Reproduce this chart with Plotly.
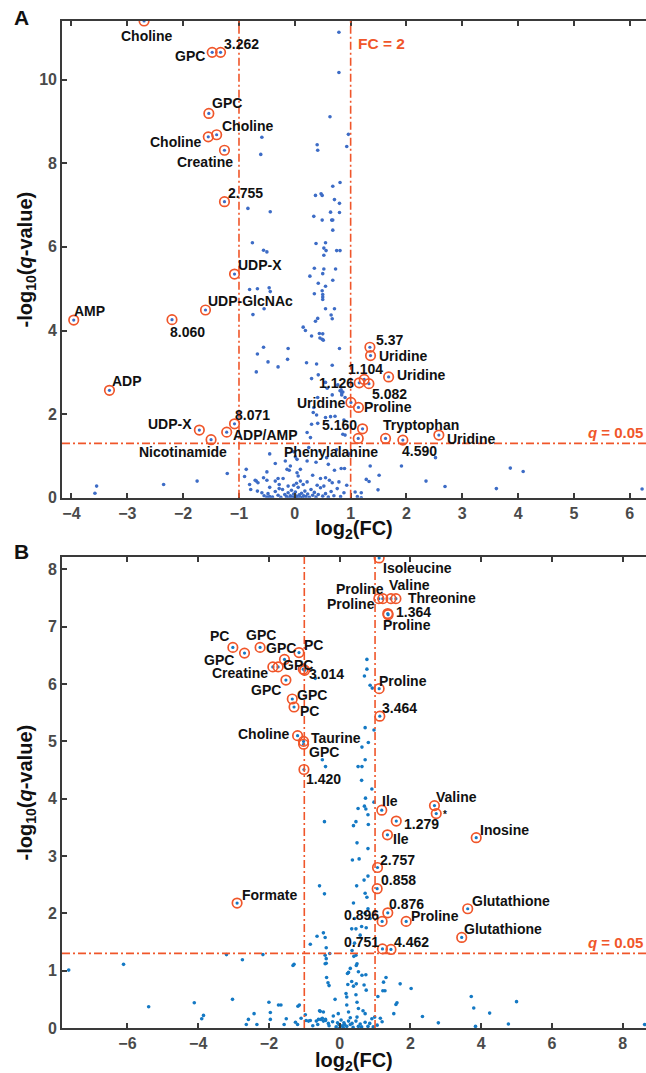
import plotly.graph_objects as go

# ---------------- Panel A data ----------------
a_bg_x = [0.79,0.79,0.63,0.96,0.93,-0.59,-0.61,0.40,0.41,0.81,0.68,0.37,0.47,0.49,0.71,0.80,-0.84,-0.44,0.64,0.80,
          0.34,0.49,0.66,0.68,0.68,-0.76,-0.56,-0.50,0.38,0.55,0.52,0.56,0.75,0.81,0.52,0.35,0.52,0.73,0.50,0.27,
          0.68,0.42,0.55,-0.81,-0.67,-0.46,-0.44,0.35,0.49,0.50,0.50,0.50,
          -0.55,0.55,0.71,-0.75,0.41,0.37,0.65,0.67,0.15,0.19,0.44,0.50,0.30,0.45,0.49,0.51,0.80,-0.56,-0.12,-0.67,
          -0.48,-0.30,0.21,0.39,0.67,0.42,0.30,0.77,0.83,0.84,0.41,0.67,0.84,0.33,0.39,0.55,0.64,0.41,0.22,0.88,
          -0.69,-0.13,0.34,0.30,0.28,0.86,0.90,0.81,0.86,0.90,0.72,0.55,0.58,
          -3.55,-3.58,-2.35,-1.75,-1.21,-0.90,-0.81,-0.69,-0.67,-0.50,-0.45,-0.35,-0.28,-0.21,0.01,0.04,-0.17,-0.08,
          0.04,0.45,0.57,-0.87,-0.14,-0.10,0.10,0.22,0.71,0.83,0.89,-0.71,-0.66,-0.56,-0.50,-0.30,0.06,0.10,0.32,0.46,
          0.55,0.62,0.67,0.79,-0.79,-0.59,1.28,1.33,1.08,1.19,1.91,2.35,2.69,3.61,3.86,4.09,6.22,2.52,1.51,1.49,1.12,
          1.19,1.35,0.97,0.75,0.25,-0.02,0.38,0.60,-0.45,-0.35,-0.50,
          -0.55,-0.48,-0.40,-0.35,-0.30,-0.25,-0.22,-0.18,-0.15,-0.12,-0.10,-0.08,-0.06,-0.04,-0.02,0.00,0.01,0.03,
          0.05,0.06,0.08,0.10,0.12,0.14,0.16,0.18,0.20,0.23,0.26,0.29,0.32,0.35,0.38,0.42,0.46,0.50,0.55,0.60,0.65,
          0.70,0.76,0.82,0.88,0.93,-0.02,0.03,-0.12,0.15,0.22,-0.28,0.40,0.52,-0.45]
a_bg_y = [11.13,10.17,9.11,8.69,8.40,8.62,8.21,8.44,8.31,7.54,7.45,7.23,7.27,7.23,7.13,7.04,6.92,6.84,6.83,6.82,
          6.73,6.64,6.64,6.64,6.40,6.10,5.92,5.88,6.08,6.10,5.97,5.91,5.91,5.91,5.80,5.49,5.47,5.47,5.36,5.30,
          5.20,5.13,5.06,4.98,5.00,5.02,4.93,4.88,4.95,4.86,4.80,4.74,
          4.52,4.52,4.52,4.38,4.29,4.22,4.37,4.28,4.08,4.00,3.93,3.92,3.87,3.82,3.79,3.77,3.57,3.60,3.57,3.44,
          3.25,3.13,3.23,3.20,3.17,2.94,2.85,2.70,2.58,2.51,2.40,2.46,2.46,2.04,1.98,1.92,1.94,1.78,1.56,1.86,
          3.01,3.31,2.16,1.76,1.44,1.52,1.50,2.56,2.53,2.40,1.95,2.76,2.62,
          0.28,0.11,0.32,0.40,0.58,0.51,0.32,0.40,0.16,0.02,0.03,0.40,0.32,0.46,0.98,0.92,0.88,0.76,
          0.60,1.12,0.96,0.68,0.68,0.66,0.68,0.88,0.66,0.70,0.70,0.42,0.36,0.48,0.42,0.46,0.52,0.40,0.54,0.46,
          0.48,0.42,0.36,0.38,0.20,0.12,0.44,0.39,0.14,0.12,0.76,0.40,0.27,0.22,0.71,0.63,0.21,0.96,0.54,0.19,0.03,
          0.00,0.76,1.05,1.15,1.20,1.10,0.85,0.80,1.05,0.82,0.62,
          0.05,0.10,0.02,0.15,0.06,0.01,0.20,0.08,0.03,0.12,0.00,0.05,0.18,0.02,0.09,0.01,0.14,0.04,
          0.00,0.25,0.07,0.02,0.11,0.00,0.05,0.16,0.03,0.09,0.01,0.20,0.06,0.13,0.02,0.08,0.24,0.04,0.10,0.02,0.15,
          0.05,0.22,0.03,0.12,0.30,0.30,0.35,0.28,0.32,0.38,0.22,0.30,0.28,0.25]

a_hl_x = [-2.70,-1.48,-1.33,-1.54,-1.55,-1.40,-1.26,-1.26,-1.08,-1.60,-2.20,-3.96,-3.32,-1.71,-1.50,-1.22,-1.08,
          1.345,1.356,1.68,1.243,1.154,1.327,1.005,1.14,1.213,1.136,1.625,1.935,2.58]
a_hl_y = [11.40,10.65,10.65,9.19,8.63,8.68,8.31,7.08,5.35,4.49,4.26,4.25,2.57,1.62,1.39,1.57,1.77,
          3.60,3.40,2.89,2.83,2.75,2.73,2.28,2.16,1.65,1.42,1.42,1.38,1.50]
a_hl_labels = ["Choline","GPC","3.262","GPC","Choline","Choline","Creatine","2.755","UDP-X","UDP-GlcNAc","8.060",
               "AMP","ADP","UDP-X","Nicotinamide","ADP/AMP","8.071","5.37","Uridine","Uridine","1.104","1.126",
               "5.082","Uridine","Proline","5.160","Phenylalanine","Tryptophan","4.590","Uridine"]

# ---------------- Panel B data ----------------
b_bg_x = [0.77,0.77,0.70,0.86,0.92,-0.69,0.72,0.97,0.81,0.63,-0.49,0.72,-0.40,0.52,0.63,0.62,0.91,0.73,0.97,0.52,
          0.70,0.74,0.80,-0.43,0.46,0.39,0.81,0.49,0.80,0.36,0.55,-0.57,-0.43,0.69,0.80,0.48,0.72,0.77,0.39,0.80,
          0.72,0.42,0.86,0.34,0.46,0.58,-0.64,-0.46,-0.41,-0.83,0.62,0.75,
          -0.41,-0.38,-0.38,-0.41,-0.37,-0.33,-0.30,-1.29,-7.66,-6.11,-5.40,-4.11,-3.85,-3.90,-3.20,-2.75,-3.03,-2.17,
          -1.32,-2.64,-2.58,-2.42,-2.34,-2.00,-1.96,-1.96,-1.73,-1.66,-1.57,-1.51,-1.25,-1.19,-1.18,-1.09,-0.97,-0.95,
          -0.83,-0.76,-0.66,-0.60,-0.57,-0.53,-0.49,-0.46,-0.40,-0.32,0.46,0.49,0.47,0.30,0.25,0.22,0.53,0.63,0.74,
          0.34,0.39,0.47,0.23,0.18,0.20,0.69,0.75,1.24,1.71,1.28,1.08,0.46,0.49,-0.13,-1.14,1.62,0.20,0.25,0.53,0.66,
          0.72,-0.55,-0.46,-0.04,-0.18,0.30,0.49,0.91,0.99,1.15,2.02,1.22,1.31,1.59,1.53,3.72,3.79,4.24,5.00,4.77,
          3.84,2.79,8.62,2.34,
          -0.88,-0.62,-0.40,-0.20,-0.06,0.04,0.14,0.30,0.46,0.53,0.58,0.72,0.85,0.95,1.06,1.20,-0.10,0.00,0.07,0.10,
          0.20,-0.30,0.38,0.62,0.80,-0.02,0.12,0.25,0.35,0.35,0.40,0.42,-0.38,-0.28]
b_bg_y = [6.43,6.26,6.14,5.98,5.93,6.10,5.24,5.20,4.98,4.90,4.68,4.68,4.56,4.56,4.56,4.32,4.17,4.01,3.94,3.83,
          3.87,3.82,3.72,3.60,3.60,3.53,3.55,3.23,3.13,2.93,2.95,2.48,2.34,2.58,2.65,2.48,2.35,2.28,2.18,2.08,
          2.00,1.91,1.91,1.73,1.73,1.62,1.60,1.66,1.58,1.46,1.77,1.75,
          1.27,1.21,1.13,1.12,0.88,0.79,0.74,1.11,1.01,1.11,0.37,0.44,0.22,0.16,1.28,1.19,0.50,1.28,
          1.09,0.06,0.15,0.25,0.06,0.45,0.27,0.15,0.40,0.40,0.06,0.16,0.10,0.06,0.38,0.17,0.23,0.13,
          0.13,0.04,0.12,0.15,0.30,0.15,0.17,0.12,0.15,0.08,1.27,1.12,1.09,1.04,0.97,0.95,0.98,0.92,0.93,
          0.81,0.73,0.77,0.76,0.60,0.54,0.75,0.66,0.80,0.77,0.65,0.55,0.58,0.45,0.50,0.40,0.44,0.40,0.28,0.34,0.30,
          0.25,0.29,0.28,0.25,0.21,0.18,0.19,0.16,0.19,0.17,0.69,0.65,0.88,0.41,0.25,0.55,0.35,0.26,0.46,0.07,
          0.03,0.09,0.06,0.20,
          0.12,0.06,0.13,0.11,0.09,0.14,0.06,0.06,0.12,0.03,0.07,0.10,0.08,0.02,0.05,0.11,0.02,0.00,0.04,0.01,
          0.03,0.04,0.01,0.02,0.03,0.06,0.09,0.12,0.08,1.35,1.25,1.48,1.40,1.30]

b_hl_x = [-3.02,-2.69,-2.25,-1.56,-1.15,-1.89,-1.74,-1.03,-0.99,-1.52,-1.34,-1.29,-1.19,-1.02,-1.02,-1.01,
          1.116,1.107,1.22,1.45,1.59,1.36,1.37,1.116,1.135,1.19,2.68,2.73,1.60,1.35,3.86,1.07,1.06,1.36,1.20,
          1.88,3.62,3.45,1.21,1.45,-2.90]
b_hl_y = [6.64,6.54,6.64,6.43,6.55,6.30,6.30,6.26,6.24,6.07,5.74,5.60,5.10,5.00,4.95,4.51,
          8.20,7.49,7.49,7.49,7.49,7.23,7.21,5.92,5.44,3.80,3.88,3.74,3.61,3.37,3.32,2.80,2.43,2.01,1.86,
          1.86,2.08,1.58,1.38,1.37,2.18]
b_hl_labels = ["PC","GPC","GPC","GPC","PC","Creatine","","GPC","3.014","GPC","GPC","PC","Choline","Taurine","GPC",
               "1.420","Isoleucine","Proline","Proline","Valine","Threonine","1.364","Proline","Proline","3.464",
               "Ile","Valine","*","1.279","Ile","Inosine","2.757","0.858","0.876","0.896","Proline","Glutathione",
               "Glutathione","0.751","4.462","Formate"]

q_thresh = 1.30103  # -log10(0.05)
fc_thresh = 1.0     # log2(2)

# label offsets in pixels (dx right, dy up) for each highlighted point
a_off = [(3,-15),(-22,-4),(21,8),(18,10),(-32,-5),(31,9),(-19,-12),(21,9),(25,9),(45,9),(16,-12),(16,9),(18,9),
         (-29,6),(-28,-12),(39,-3),(18,9),(20,7),(32,0),(32,2),(1,10),(-23,0),(21,-10),(-30,-1),(30,0),(-23,4),
         (-27,-14),(35,13),(17,-11),(32,-4)]
b_off = [(-13,11),(-26,-7),(1,12),(-3,11),(14,8),(-33,-6),(0,0),(-5,4),(22,-4),(-20,-10),(20,4),(15,-4),(-34,2),
         (32,3),(20,-8),(20,-10),(38,-10),(-19,10),(-32,-5),(19,14),(46,1),(26,2),(19,-10),(24,8),(20,8),(8,9),
         (22,9),(9,-1),(25,-3),(14,-4),(28,8),(20,8),(21,9),(19,9),(-21,6),(29,5),(43,8),(41,8),(-21,7),(21,7),
         (32,8)]

ORANGE = "#F0562A"
BLUE_A = "#3D6CC6"
BLUE_B = "#1479C4"
AX = "#3a3a3a"
FONT = "Liberation Sans, Arial, sans-serif"
DASH = "8px,3px,2px,3px"

fig = go.Figure()

def add_panel(xa, ya, bgx, bgy, hx, hy, blue):
    fig.add_trace(go.Scatter(x=bgx, y=bgy, mode="markers", xaxis=xa, yaxis=ya,
                             marker=dict(size=3.6, color=blue), hoverinfo="skip", showlegend=False))
    fig.add_trace(go.Scatter(x=hx, y=hy, mode="markers", xaxis=xa, yaxis=ya,
                             marker=dict(size=3.2, color=blue), hoverinfo="skip", showlegend=False))
    fig.add_trace(go.Scatter(x=hx, y=hy, mode="markers", xaxis=xa, yaxis=ya,
                             marker=dict(symbol="circle-open", size=9.5, color=ORANGE, line=dict(width=1.7, color=ORANGE)),
                             hoverinfo="skip", showlegend=False))

add_panel("x", "y", a_bg_x, a_bg_y, a_hl_x, a_hl_y, BLUE_A)
add_panel("x2", "y2", b_bg_x, b_bg_y, b_hl_x, b_hl_y, BLUE_B)

annotations = []
def add_labels(xref, yref, hx, hy, labels, offs):
    for x, y, t, (dx, dy) in zip(hx, hy, labels, offs):
        if not t:
            continue
        annotations.append(dict(x=x, y=y, xref=xref, yref=yref, text="<b>%s</b>" % t, showarrow=False,
                                xanchor="center", yanchor="middle",
                                xshift=dx, yshift=dy, font=dict(family=FONT, size=14 if t != "*" else 10, color="#111111")))

add_labels("x", "y", a_hl_x, a_hl_y, a_hl_labels, a_off)
add_labels("x2", "y2", b_hl_x, b_hl_y, b_hl_labels, b_off)

shapes = []
for xr, yr in (("x", "y"), ("x2", "y2")):
    for xv in (-fc_thresh, fc_thresh):
        shapes.append(dict(type="line", xref=xr, yref=yr + " domain", x0=xv, x1=xv, y0=0, y1=1,
                           line=dict(color=ORANGE, width=1.6, dash=DASH), layer="above"))
    shapes.append(dict(type="line", xref=xr + " domain", yref=yr, x0=0, x1=1, y0=q_thresh, y1=q_thresh,
                       line=dict(color=ORANGE, width=1.6, dash=DASH), layer="above"))

title_font = dict(family=FONT, size=20, color="#111111")
annotations += [
    dict(x=fc_thresh, y=10.87, xref="x", yref="y", xanchor="left", yanchor="middle", xshift=5,
         text="<b>FC = 2</b>", showarrow=False, font=dict(family=FONT, size=15.5, color=ORANGE)),
    dict(x=1, y=1.55, xref="x domain", yref="y", xanchor="right", yanchor="middle", xshift=-1,
         text="<b><i>q</i> = 0.05</b>", showarrow=False, font=dict(family=FONT, size=15, color=ORANGE)),
    dict(x=1, y=1.49, xref="x2 domain", yref="y2", xanchor="right", yanchor="middle", xshift=-1,
         text="<b><i>q</i> = 0.05</b>", showarrow=False, font=dict(family=FONT, size=15, color=ORANGE)),
    # axis titles
    dict(x=0.5, y=0, xref="x domain", yref="y domain", xanchor="center", yanchor="middle", yshift=-32,
         text="<b>log<sub>2</sub>(FC)</b>", showarrow=False, font=title_font),
    dict(x=0.5, y=0, xref="x2 domain", yref="y2 domain", xanchor="center", yanchor="middle", yshift=-33,
         text="<b>log<sub>2</sub>(FC)</b>", showarrow=False, font=title_font),
    dict(x=0, y=0.5, xref="x domain", yref="y domain", xanchor="center", yanchor="middle", xshift=-36, textangle=-90,
         text="<b>-log<sub>10</sub>(<i>q</i>-value)</b>", showarrow=False, font=title_font),
    dict(x=0, y=0.5, xref="x2 domain", yref="y2 domain", xanchor="center", yanchor="middle", xshift=-36, textangle=-90,
         text="<b>-log<sub>10</sub>(<i>q</i>-value)</b>", showarrow=False, font=title_font),
    # panel letters
    dict(x=0, y=1, xref="x domain", yref="y domain", xanchor="center", yanchor="middle", xshift=-41, yshift=4,
         text="<b>A</b>", showarrow=False, font=dict(family=FONT, size=21, color="#111111")),
    dict(x=0, y=1, xref="x2 domain", yref="y2 domain", xanchor="center", yanchor="middle", xshift=-41, yshift=5,
         text="<b>B</b>", showarrow=False, font=dict(family=FONT, size=21, color="#111111")),
]

tickfont = dict(family=FONT, size=16, color="#4a4a4a", weight="bold")
common_x = dict(showline=True, linecolor=AX, linewidth=1.6, mirror="ticks", ticks="inside", ticklen=5,
                tickwidth=1.5, tickcolor=AX, showgrid=False, zeroline=False, tickfont=tickfont)
common_y = dict(showline=True, linecolor=AX, linewidth=1.6, mirror=False, ticks="inside", ticklen=5,
                tickwidth=1.5, tickcolor=AX, showgrid=False, zeroline=False, tickfont=tickfont)

fig.update_layout(
    width=646, height=1073, margin=dict(l=61.5, r=0, t=21, b=45.3),
    paper_bgcolor="white", plot_bgcolor="white",
    xaxis=dict(common_x, range=[-4.17, 6.29], tickvals=[-4,-3,-2,-1,0,1,2,3,4,5,6], anchor="y", domain=[0, 1]),
    yaxis=dict(common_y, range=[0, 11.4], tickvals=[0,2,4,6,8,10], anchor="x", domain=[0.5265, 1]),
    xaxis2=dict(common_x, range=[-7.85, 8.66], tickvals=[-6,-4,-2,0,2,4,6,8], anchor="y2", domain=[0, 1]),
    yaxis2=dict(common_y, range=[0, 8.22], tickvals=[0,1,2,3,4,5,6,7,8], anchor="x2", domain=[0, 0.4679]),
    shapes=shapes, annotations=annotations, showlegend=False,
)

fig.write_html("out.html", config={"displayModeBar": False},
               post_script="document.body.style.margin='0';document.body.style.overflow='hidden';")
